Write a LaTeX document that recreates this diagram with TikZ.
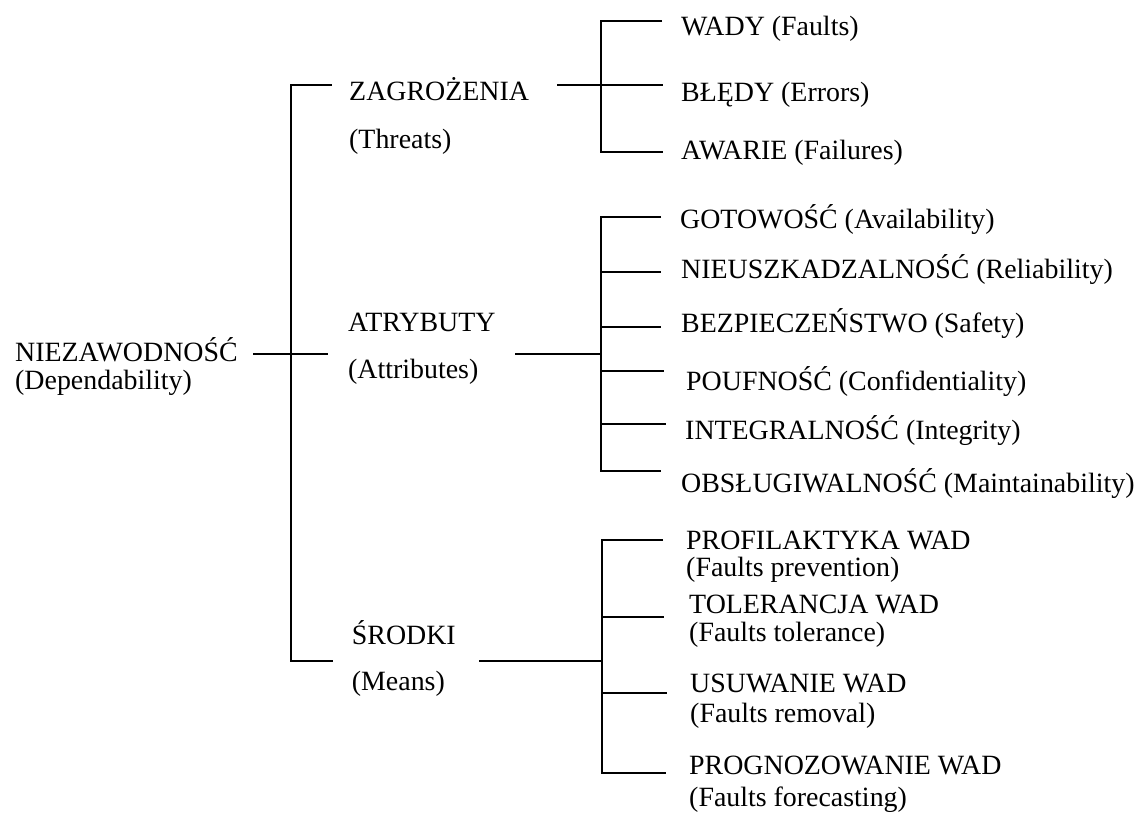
\documentclass[tikz,border=0pt]{standalone}
\usepackage{fontspec}
\setmainfont{Liberation Serif}
\begin{document}
\begin{tikzpicture}[x=1pt,y=-1pt,
  lbl/.style={anchor=base west,inner sep=0pt,font=\fontsize{27.9}{33}\selectfont},
  ln/.style={line width=1.8pt,draw=black}]
\useasboundingbox (0,0) rectangle (1137,814);
% root
\node[lbl] (niez) at (15,361.7) {NIEZAWODNOŚĆ};
\node[lbl] (dep) at (15,389) {(Dependability)};
% middle level
\node[lbl] (zag) at (349,100) {ZAGROŻENIA};
\node[lbl] (thr) at (349,148) {(Threats)};
\node[lbl] (atr) at (348,331.7) {ATRYBUTY};
\node[lbl] (att) at (348,378) {(Attributes)};
\node[lbl] (sro) at (351.7,644) {ŚRODKI};
\node[lbl] (mea) at (351.7,690) {(Means)};
% threats children
\node[lbl] (t1) at (681,35) {WADY (Faults)};
\node[lbl] (t2) at (681,101) {BŁĘDY (Errors)};
\node[lbl] (t3) at (681,159) {AWARIE (Failures)};
% attributes children
\node[lbl] (a1) at (680,228) {GOTOWOŚĆ (Availability)};
\node[lbl] (a2) at (681,278) {NIEUSZKADZALNOŚĆ (Reliability)};
\node[lbl] (a3) at (681,332) {BEZPIECZEŃSTWO (Safety)};
\node[lbl] (a4) at (686,390) {POUFNOŚĆ (Confidentiality)};
\node[lbl] (a5) at (685,439) {INTEGRALNOŚĆ (Integrity)};
\node[lbl] (a6) at (681,492) {OBSŁUGIWALNOŚĆ (Maintainability)};
% means children
\node[lbl] (m1) at (686,549) {PROFILAKTYKA WAD};
\node[lbl] (m1b) at (686,576) {(Faults prevention)};
\node[lbl] (m2) at (689,613.3) {TOLERANCJA WAD};
\node[lbl] (m2b) at (689,641) {(Faults tolerance)};
\node[lbl] (m3) at (690,692.3) {USUWANIE WAD};
\node[lbl] (m3b) at (690,722) {(Faults removal)};
\node[lbl] (m4) at (689,774) {PROGNOZOWANIE WAD};
\node[lbl] (m4b) at (689,806) {(Faults forecasting)};
% root connectors
\coordinate (rIn) at (253,354.3);
\coordinate (rOut) at (328,354.3);
\coordinate (rTop) at (331.7,85);
\coordinate (rBL) at (290.7,660.7);
\coordinate (rBot) at (333,660.7);
\draw[ln] (rIn) -- (rOut);
\draw[ln] (rTop) -| (rBL) -- (rBot);
% threats connectors
\coordinate (tIn) at (557,85);
\coordinate (tTop) at (662,20.7);
\coordinate (tMid) at (663,85);
\coordinate (tBL) at (601,152);
\coordinate (tBot) at (663,152);
\draw[ln] (tIn) -- (tMid);
\draw[ln] (tTop) -| (tBL) -- (tBot);
% attributes connectors
\coordinate (aIn) at (515,354.3);
\coordinate (aJ) at (601,354.3);
\coordinate (aTop) at (661,217);
\coordinate (aBL) at (601,470.7);
\coordinate (aBot) at (661,470.7);
\coordinate (aE2) at (661,271.7);
\coordinate (aE3) at (661,326.7);
\coordinate (aE4) at (664,371);
\coordinate (aE5) at (666,424);
\draw[ln] (aIn) -- (aJ);
\draw[ln] (aTop) -| (aBL) -- (aBot);
\foreach \e in {aE2,aE3,aE4,aE5} \draw[ln] (aBL |- \e) -- (\e);
% means connectors
\coordinate (mIn) at (479,660.7);
\coordinate (mJ) at (601.7,660.7);
\coordinate (mTop) at (663,540);
\coordinate (mBL) at (601.7,773.3);
\coordinate (mBot) at (666,773.3);
\coordinate (mE2) at (664,617.3);
\coordinate (mE3) at (667,693.3);
\draw[ln] (mIn) -- (mJ);
\draw[ln] (mTop) -| (mBL) -- (mBot);
\foreach \e in {mE2,mE3} \draw[ln] (mBL |- \e) -- (\e);
\end{tikzpicture}
\end{document}
